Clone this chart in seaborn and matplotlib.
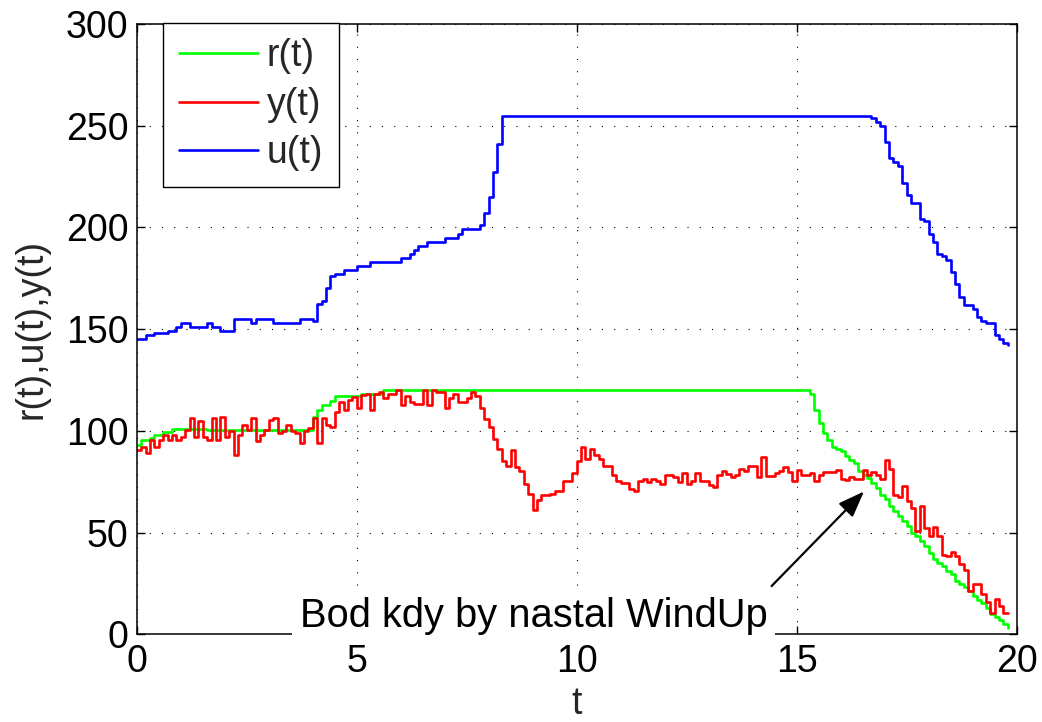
import numpy as np
import pandas as pd
import matplotlib
matplotlib.use("Agg")
import matplotlib.pyplot as plt
import seaborn as sns

# ---- data (sample period 0.1 s, samples k = 0..198) ----
t_step = 0.1
r_vals = [
    93.1, 95.3, 95.3, 96.7, 98.0, 98.0, 99.2, 99.2, 101.1, 101.1,        # k0-9
    101.1, 101.1, 101.1, 101.1, 101.1, 101.1, 100.2, 100.2, 100.2, 100.2,  # k10-19
    100.2, 100.2, 100.2, 100.2, 100.2, 100.2, 100.2, 100.2, 100.2, 100.2,  # k20-29
    100.2, 100.2, 100.2, 100.2, 100.2, 100.2, 100.2, 100.2, 100.2, 100.2,  # k30-39
    106.7, 110.3, 112.5, 112.5, 114.5, 117.0, 117.0, 117.0, 117.0, 117.0,  # k40-49
    117.0, 118.2, 118.2, 118.2, 118.2, 118.2, 120, 120, 120, 120,          # k50-59
    120, 120, 120, 120, 120, 120, 120, 120, 120, 120,                      # k60-69
    120, 120, 120, 120, 120, 120, 120, 120, 120, 120,                      # k70-79
    120, 120, 120, 120, 120, 120, 120, 120, 120, 120,                      # k80-89
    120, 120, 120, 120, 120, 120, 120, 120, 120, 120,                      # k90-99
    120, 120, 120, 120, 120, 120, 120, 120, 120, 120,                      # k100-109
    120, 120, 120, 120, 120, 120, 120, 120, 120, 120,                      # k110-119
    120, 120, 120, 120, 120, 120, 120, 120, 120, 120,                      # k120-129
    120, 120, 120, 120, 120, 120, 120, 120, 120, 120,                      # k130-139
    120, 120, 120, 120, 120, 120, 120, 120, 120, 120,                      # k140-149
    120, 120, 120, 118.0, 110.3, 103.8, 98.9, 95.6, 92.3, 91.2,            # k150-159
    89.9, 87.4, 85.8, 84.2, 80.1, 78.4, 76.8, 74.4, 71.9, 68.6,            # k160-169
    66.5, 62.9, 60.5, 58.0, 55.6, 53.1, 49.8, 48.2, 45.8, 43.3,            # k170-179
    40.0, 36.8, 35.1, 33.5, 31.0, 29.4, 26.1, 24.5, 23.3, 21.2,            # k180-189
    18.8, 16.8, 15.2, 13.0, 9.8, 8.7, 7.0, 4.9, 3.3,                       # k190-198
]
y_vals = [
    90.4, 92.3, 89.1, 95.6, 92.3, 95.6, 98.0, 95.6, 98.0, 95.6,            # k0-9
    97.2, 100.5, 106.2, 97.2, 104.6, 97.2, 95.6, 106.2, 95.6, 107.0,       # k10-19
    97.2, 99.7, 88.2, 98.0, 102.9, 100.5, 106.2, 94.8, 98.0, 100.5,        # k20-29
    105.4, 106.2, 98.9, 99.7, 102.9, 99.7, 98.9, 94.0, 99.7, 101.3,        # k30-39
    106.2, 94.0, 106.2, 102.9, 102.0, 109.5, 114.4, 110.3, 115.2, 116.5,   # k40-49
    111.1, 117.7, 118.2, 110.0, 118.2, 119.0, 116.0, 118.2, 118.2, 120.1,  # k50-59
    112.7, 117.2, 114.0, 113.2, 113.2, 120.1, 112.7, 120.1, 119.0, 119.0,  # k60-69
    111.1, 116.0, 118.2, 114.0, 114.0, 116.0, 119.0, 117.2, 111.1, 105.9,  # k70-79
    102.1, 95.9, 91.0, 85.0, 82.8, 90.4, 82.2, 80.1, 74.0, 69.1,           # k80-89
    61.3, 66.2, 68.3, 68.3, 69.1, 70.3, 70.3, 75.2, 75.2, 79.2,            # k90-99
    85.0, 92.3, 86.1, 91.2, 88.2, 86.3, 82.5, 82.5, 78.4, 75.2,            # k100-109
    74.4, 74.4, 71.4, 70.3, 75.2, 76.3, 74.7, 76.3, 75.2, 74.0,            # k110-119
    78.4, 78.4, 77.3, 74.9, 79.2, 74.0, 75.2, 79.2, 75.2, 75.2,            # k120-129
    73.5, 72.2, 78.1, 80.1, 79.0, 77.3, 78.4, 81.4, 80.4, 82.5,            # k130-139
    82.5, 77.3, 87.1, 77.6, 77.6, 79.3, 80.1, 82.2, 79.6, 75.2,            # k140-149
    80.6, 78.4, 78.4, 79.3, 75.2, 78.4, 79.6, 79.6, 79.6, 80.6,            # k150-159
    76.3, 75.8, 77.3, 76.3, 76.3, 80.6, 78.4, 79.6, 78.4, 76.3,            # k160-169
    85.5, 81.2, 68.6, 67.5, 73.0, 65.3, 62.1, 50.7, 63.2, 52.3,            # k170-179
    48.2, 52.8, 48.5, 39.2, 38.4, 40.4, 38.7, 34.3, 31.5, 21.2,            # k180-189
    24.5, 24.5, 19.6, 15.9, 10.6, 17.5, 13.9, 10.6, 10.6,                  # k190-198
]
u_vals = [
    145, 145, 147, 147, 148, 148, 148, 149, 149, 151,                      # k0-9
    153, 153, 151, 151, 151, 151, 153, 151, 151, 149,                      # k10-19
    149, 149, 155, 155, 155, 155, 153, 155, 155, 155,                      # k20-29
    155, 153, 153, 153, 153, 153, 153, 155, 155, 155,                      # k30-39
    154, 162.5, 164, 170, 176, 177, 177, 179, 179, 179,                    # k40-49
    181, 181, 181, 183, 183, 183, 183, 183, 183, 183,                      # k50-59
    185, 185, 187, 189, 191, 191, 193, 193, 193, 193,                      # k60-69
    195, 195, 195, 197, 199, 199, 199, 199, 201, 207,                      # k70-79
    215, 227, 241, 255, 255, 255, 255, 255, 255, 255,                      # k80-89
    255, 255, 255, 255, 255, 255, 255, 255, 255, 255,                      # k90-99
    255, 255, 255, 255, 255, 255, 255, 255, 255, 255,                      # k100-109
    255, 255, 255, 255, 255, 255, 255, 255, 255, 255,                      # k110-119
    255, 255, 255, 255, 255, 255, 255, 255, 255, 255,                      # k120-129
    255, 255, 255, 255, 255, 255, 255, 255, 255, 255,                      # k130-139
    255, 255, 255, 255, 255, 255, 255, 255, 255, 255,                      # k140-149
    255, 255, 255, 255, 255, 255, 255, 255, 255, 255,                      # k150-159
    255, 255, 255, 255, 255, 255, 255, 253.7, 252, 250,                    # k160-169
    242, 234, 232, 230, 222, 216, 212, 212, 204, 203,                      # k170-179
    197, 193, 187, 186, 184, 178, 172, 166, 162, 162,                      # k180-189
    160, 156, 154, 153, 153, 147, 145, 143, 142,                           # k190-198
]
series_names = ["r(t)", "y(t)", "u(t)"]
series_colors = ["#00ff00", "#ff0000", "#0000ff"]
x_ticks = [0, 5, 10, 15, 20]
y_ticks = [0, 50, 100, 150, 200, 250, 300]
annot_text = "Bod kdy by nastal WindUp"

frames = []
for name, vals in zip(series_names, [r_vals, y_vals, u_vals]):
    tt = np.round(np.arange(len(vals)) * t_step, 1)
    frames.append(pd.DataFrame({"t": tt, "value": vals, "series": name}))
df = pd.concat(frames, ignore_index=True)

# ---- style ----
sns.set_theme(style="white")
plt.rcParams["font.family"] = ["Liberation Sans", "DejaVu Sans"]
FS = 27

fig = plt.figure(figsize=(10.42, 7.22), dpi=100)
fig.patch.set_facecolor("white")
ax = fig.add_axes([0.1312, 0.1215, 0.8445, 0.8453])

sns.lineplot(data=df, x="t", y="value", hue="series",
             hue_order=series_names,
             palette=dict(zip(series_names, series_colors)),
             estimator=None, sort=False, drawstyle="steps-post",
             linewidth=1.9, ax=ax, legend=True)

ax.set_xlim(0, 20)
ax.set_ylim(0, 300)
ax.set_xticks(x_ticks)
ax.set_yticks(y_ticks)
ax.set_xticklabels([str(v) for v in x_ticks])
ax.set_yticklabels([str(v) for v in y_ticks])
ax.set_xlabel("t", fontsize=FS, labelpad=4)
ax.set_ylabel("r(t),u(t),y(t)", fontsize=FS, labelpad=12)

ax.grid(True, color="black", linestyle=(0, (1, 10)), linewidth=0.8)
ax.set_facecolor("white")
for sp in ax.spines.values():
    sp.set_visible(True)
    sp.set_color("black")
    sp.set_linewidth(1.1)
ax.tick_params(axis="both", direction="in", length=6, width=1.0,
               top=True, right=True, bottom=True, left=True,
               labelsize=FS, colors="black")
ax.tick_params(axis="x", pad=7)
ax.tick_params(axis="y", pad=6)

handles, labels = ax.get_legend_handles_labels()
for h in handles:
    h.set_linewidth(1.9)
leg = ax.legend(handles, labels, loc="upper left",
                bbox_to_anchor=(0.030, 1.002), borderaxespad=0,
                fontsize=FS, frameon=True, fancybox=False, shadow=False,
                handlelength=2.1, handletextpad=0.25, borderpad=0.42,
                labelspacing=0.33)
leg.get_frame().set_edgecolor("black")
leg.get_frame().set_linewidth(1.0)
leg.get_frame().set_alpha(1)

ax.text(9.02, 3.4, annot_text, fontsize=28.7, ha="center", va="baseline",
        color="black", zorder=10, clip_on=False,
        bbox=dict(boxstyle="square,pad=0.2", facecolor="white",
                  edgecolor="none"))
ax.annotate("", xy=(16.53, 70.2), xytext=(14.43, 23.7),
            arrowprops=dict(arrowstyle="-|>,head_length=0.8,head_width=0.3",
                            mutation_scale=20, color="black", lw=1.6,
                            shrinkA=0, shrinkB=0),
            zorder=11)

fig.savefig("out.png", dpi=100, facecolor="white")
